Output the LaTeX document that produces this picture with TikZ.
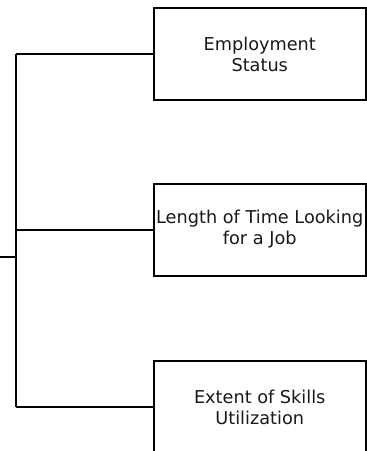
\documentclass[tikz,border=0pt]{standalone}
\usepackage{fontspec}
\setmainfont{DejaVu Sans}
\begin{document}
\begin{tikzpicture}[x=1pt,y=-1pt,
  box/.style={draw=black, line width=2pt, fill=white, minimum width=212.5pt, minimum height=92pt,
    inner sep=0pt, align=center, font=\fontsize{17.7}{21}\selectfont, text=black!90},
  link/.style={draw=black, line width=2pt}]
\useasboundingbox (0,0) rectangle (367,451);
\clip (0,0) rectangle (367,451);
\node[box] (b1) at (259.75,54) {Employment\\Status};
\node[box] (b2) at (259.75,229.5) {Length of Time Looking\\for a Job};
\node[box] (b3) at (259.75,407) {Extent of Skills\\Utilization};
\coordinate (root) at (-2,257);
\coordinate (j) at (15.5,257);
\draw[link] (root) -- (j);
\draw[link] (j |- b1.west) -- (j |- b3.west);
\draw[link] (j |- b1.west) -- (b1.west);
\draw[link] (j |- b2.west) -- (b2.west);
\draw[link] (j |- b3.west) -- (b3.west);
\end{tikzpicture}
\end{document}
